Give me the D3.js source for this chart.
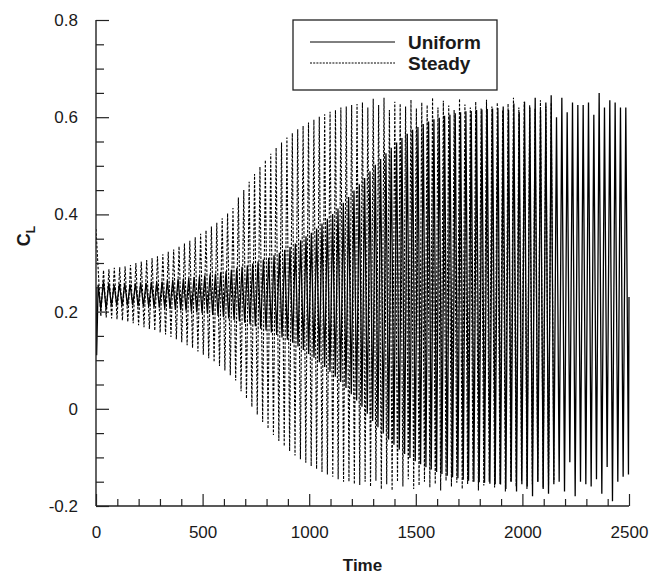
<!DOCTYPE html>
<html>
<head>
<meta charset="utf-8">
<script src="https://cdn.jsdelivr.net/npm/d3@7"></script>
<style>
  html, body { margin: 0; padding: 0; background: #fff; }
  svg { display: block; }
  text { font-family: "Liberation Sans", Arial, Helvetica, sans-serif; fill: #1a1a1a; }
</style>
</head>
<body>
<div id="chart"></div>
<script>
// Lift coefficient history: start-up values, then per-cycle peak and trough of C_L

// Uniform inflow: [time, C_L] start-up points, then one max / min per cycle
const uniformOnset = [[0, 0.25], [3, 0.11]];
const uniformT0 = 10;
const uniformPeriod = 25;
const uniformEnd = 0.23;
const uniformMax = [
  0.255, 0.262, 0.258, 0.255, 0.257, 0.258, 0.256, 0.258, 0.259, 0.259,
  0.261, 0.261, 0.262, 0.264, 0.265, 0.267, 0.268, 0.269, 0.271, 0.272,
  0.274, 0.276, 0.278, 0.281, 0.283, 0.286, 0.289, 0.292, 0.295, 0.299,
  0.303, 0.307, 0.311, 0.316, 0.321, 0.327, 0.333, 0.340, 0.347, 0.355,
  0.362, 0.371, 0.381, 0.391, 0.401, 0.412, 0.424, 0.436, 0.449, 0.462,
  0.475, 0.489, 0.502, 0.514, 0.526, 0.537, 0.548, 0.557, 0.566, 0.574,
  0.580, 0.586, 0.591, 0.596, 0.599, 0.603, 0.605, 0.608, 0.610, 0.612,
  0.613, 0.615, 0.616, 0.617, 0.618, 0.619, 0.622, 0.615, 0.628, 0.610,
  0.632, 0.620, 0.640, 0.615, 0.630, 0.645, 0.600, 0.640, 0.610, 0.630,
  0.625, 0.625, 0.630, 0.605, 0.650, 0.620, 0.635, 0.630, 0.620, 0.620
];
const uniformMin = [
  0.205, 0.205, 0.212, 0.213, 0.212, 0.212, 0.213, 0.211, 0.211, 0.210,
  0.209, 0.208, 0.207, 0.206, 0.204, 0.203, 0.202, 0.200, 0.199, 0.197,
  0.196, 0.193, 0.191, 0.189, 0.186, 0.183, 0.180, 0.177, 0.174, 0.170,
  0.165, 0.161, 0.157, 0.152, 0.147, 0.142, 0.136, 0.128, 0.121, 0.113,
  0.105, 0.096, 0.086, 0.076, 0.066, 0.055, 0.043, 0.030, 0.017, 0.004,
  -0.010, -0.025, -0.038, -0.051, -0.063, -0.074, -0.084, -0.093, -0.101, -0.108,
  -0.114, -0.120, -0.125, -0.130, -0.134, -0.138, -0.141, -0.143, -0.146, -0.148,
  -0.150, -0.151, -0.152, -0.154, -0.155, -0.156, -0.165, -0.150, -0.170, -0.155,
  -0.160, -0.180, -0.150, -0.165, -0.175, -0.155, -0.150, -0.170, -0.110, -0.180,
  -0.150, -0.155, -0.160, -0.145, -0.175, -0.120, -0.190, -0.150, -0.140, -0.135
];

// Steady inflow: same layout
const steadyOnset = [[0, 0.37]];
const steadyT0 = 10;
const steadyPeriod = 25.3;
const steadyMax = [
  0.288, 0.285, 0.287, 0.290, 0.291, 0.293, 0.296, 0.300, 0.303, 0.306,
  0.310, 0.314, 0.318, 0.323, 0.328, 0.334, 0.340, 0.346, 0.353, 0.360,
  0.367, 0.375, 0.383, 0.392, 0.402, 0.413, 0.435, 0.450, 0.467, 0.483,
  0.498, 0.512, 0.525, 0.537, 0.548, 0.558, 0.567, 0.575, 0.582, 0.589,
  0.595, 0.601, 0.606, 0.611, 0.615, 0.620, 0.622, 0.625, 0.627, 0.630,
  0.620, 0.638, 0.625, 0.640, 0.615, 0.632, 0.628, 0.622, 0.636, 0.618,
  0.630, 0.625, 0.640, 0.620, 0.634, 0.624, 0.615, 0.638, 0.626, 0.620,
  0.632, 0.618, 0.636, 0.622, 0.630, 0.615, 0.628, 0.640, 0.620, 0.632,
  0.625, 0.618, 0.635, 0.622, 0.630
];
const steadyMin = [
  0.190, 0.188, 0.186, 0.184, 0.182, 0.179, 0.176, 0.172, 0.168, 0.164,
  0.161, 0.157, 0.153, 0.148, 0.143, 0.137, 0.131, 0.125, 0.118, 0.111,
  0.104, 0.096, 0.088, 0.079, 0.069, 0.058, 0.036, 0.021, 0.004, -0.012,
  -0.027, -0.041, -0.054, -0.066, -0.077, -0.087, -0.096, -0.104, -0.111, -0.118,
  -0.124, -0.130, -0.135, -0.140, -0.145, -0.150, -0.150, -0.155, -0.157, -0.150,
  -0.160, -0.148, -0.165, -0.155, -0.168, -0.150, -0.160, -0.145, -0.165, -0.158,
  -0.150, -0.162, -0.155, -0.168, -0.148, -0.160, -0.152, -0.165, -0.155, -0.150,
  -0.168, -0.158, -0.150, -0.162, -0.155, -0.170, -0.150, -0.160, -0.148, -0.165,
  -0.155, -0.150, -0.162, -0.158, -0.150
];

const xTicks = [0, 500, 1000, 1500, 2000, 2500];
const yTicks = [-0.2, 0, 0.2, 0.4, 0.6, 0.8];
const seriesNames = ["Uniform", "Steady"];

// Assemble the time series for a run from its start-up points and peak lists
function buildSeries(onset, t0, period, maxs, mins, end) {
  const pts = onset.slice();
  maxs.forEach((v, k) => {
    pts.push([t0 + k * period, v]);
    pts.push([t0 + (k + 0.5) * period, mins[k]]);
  });
  if (end !== undefined) pts.push([xTicks[xTicks.length - 1], end]);
  return pts;
}
const uniformSeries = buildSeries(uniformOnset, uniformT0, uniformPeriod, uniformMax, uniformMin, uniformEnd);
const steadySeries = buildSeries(steadyOnset, steadyT0, steadyPeriod, steadyMax, steadyMin);

const W = 654, H = 574;
const plot = { left: 96, right: 629, top: 20, bottom: 506 };

const svg = d3.select("#chart").append("svg")
  .attr("width", W).attr("height", H);

const x = d3.scaleLinear().domain([0, 2500]).range([plot.left, plot.right]);
const y = d3.scaleLinear().domain([-0.2, 0.8]).range([plot.bottom, plot.top]);

svg.append("defs").append("clipPath").attr("id", "plotClip")
  .append("rect")
  .attr("x", plot.left).attr("y", plot.top - 2)
  .attr("width", plot.right - plot.left + 2).attr("height", plot.bottom - plot.top + 2);

const line = d3.line().x(d => x(d[0])).y(d => y(d[1]));

const lines = svg.append("g").attr("clip-path", "url(#plotClip)");
lines.append("path")
  .datum(steadySeries)
  .attr("d", line)
  .attr("fill", "none")
  .attr("stroke", "#000")
  .attr("stroke-width", 1.1)
  .attr("stroke-dasharray", "2.6,1.6");
lines.append("path")
  .datum(uniformSeries)
  .attr("d", line)
  .attr("fill", "none")
  .attr("stroke", "#000")
  .attr("stroke-width", 1.3);

// Axes: inward ticks, minor every 100 in time and 0.05 in C_L
const axisColor = "#222";
const xAxis = d3.axisBottom(x).tickValues(xTicks).tickSize(-12).tickPadding(20)
  .tickFormat(d => String(d));
const xMinor = d3.axisBottom(x).tickValues(d3.range(0, 2501, 100).filter(v => !xTicks.includes(v)))
  .tickSize(-7).tickFormat("");
const yAxis = d3.axisLeft(y).tickValues(yTicks).tickSize(-13).tickPadding(18)
  .tickFormat(d => String(+d.toFixed(1)));
const yMinor = d3.axisLeft(y).tickValues(d3.range(-4, 17).map(i => i * 0.05).filter(v => !yTicks.some(t => Math.abs(t - v) < 1e-9)))
  .tickSize(-8).tickFormat("");

function styleAxis(g) {
  g.select(".domain").attr("stroke", axisColor).attr("stroke-width", 1.4);
  g.selectAll(".tick line").attr("stroke", axisColor).attr("stroke-width", 1.2);
  g.selectAll(".tick text").attr("font-size", 17).attr("fill", "#1a1a1a")
    .attr("font-family", '"Liberation Sans", Arial, sans-serif');
}

svg.append("g").attr("transform", `translate(0,${plot.bottom})`).call(xMinor).call(styleAxis)
  .select(".domain").remove();
svg.append("g").attr("transform", `translate(${plot.left},0)`).call(yMinor).call(styleAxis)
  .select(".domain").remove();
const gx = svg.append("g").attr("transform", `translate(0,${plot.bottom})`).call(xAxis).call(styleAxis);
gx.select(".domain").attr("d", `M${plot.left},0H${plot.right}`);
const gy = svg.append("g").attr("transform", `translate(${plot.left},0)`).call(yAxis).call(styleAxis);
gy.select(".domain").attr("d", `M0,${plot.bottom}V${plot.top}`);

// Axis titles
svg.append("text")
  .attr("x", (plot.left + plot.right) / 2).attr("y", 571)
  .attr("text-anchor", "middle")
  .attr("font-size", 17).attr("font-weight", "bold")
  .text("Time");

const yTitle = svg.append("text")
  .attr("transform", `translate(30,236) rotate(-90)`)
  .attr("text-anchor", "middle")
  .attr("font-size", 18).attr("font-weight", "bold");
yTitle.append("tspan").text("C");
yTitle.append("tspan").attr("font-size", 12).attr("dy", 5).text("L");

// Legend
const legend = svg.append("g");
legend.append("rect")
  .attr("x", 293).attr("y", 20).attr("width", 204).attr("height", 70)
  .attr("fill", "#fff").attr("stroke", axisColor).attr("stroke-width", 1.3);
const legendRows = [
  { name: seriesNames[0], dash: null, y: 42 },
  { name: seriesNames[1], dash: "2,1.2", y: 63 }
];
legendRows.forEach(r => {
  legend.append("line")
    .attr("x1", 310).attr("x2", 395).attr("y1", r.y).attr("y2", r.y)
    .attr("stroke", "#000").attr("stroke-width", 1)
    .attr("stroke-dasharray", r.dash);
  legend.append("text")
    .attr("x", 408).attr("y", r.y).attr("dy", "0.35em")
    .attr("font-size", 19).attr("font-weight", "bold")
    .text(r.name);
});
</script>
</body>
</html>
